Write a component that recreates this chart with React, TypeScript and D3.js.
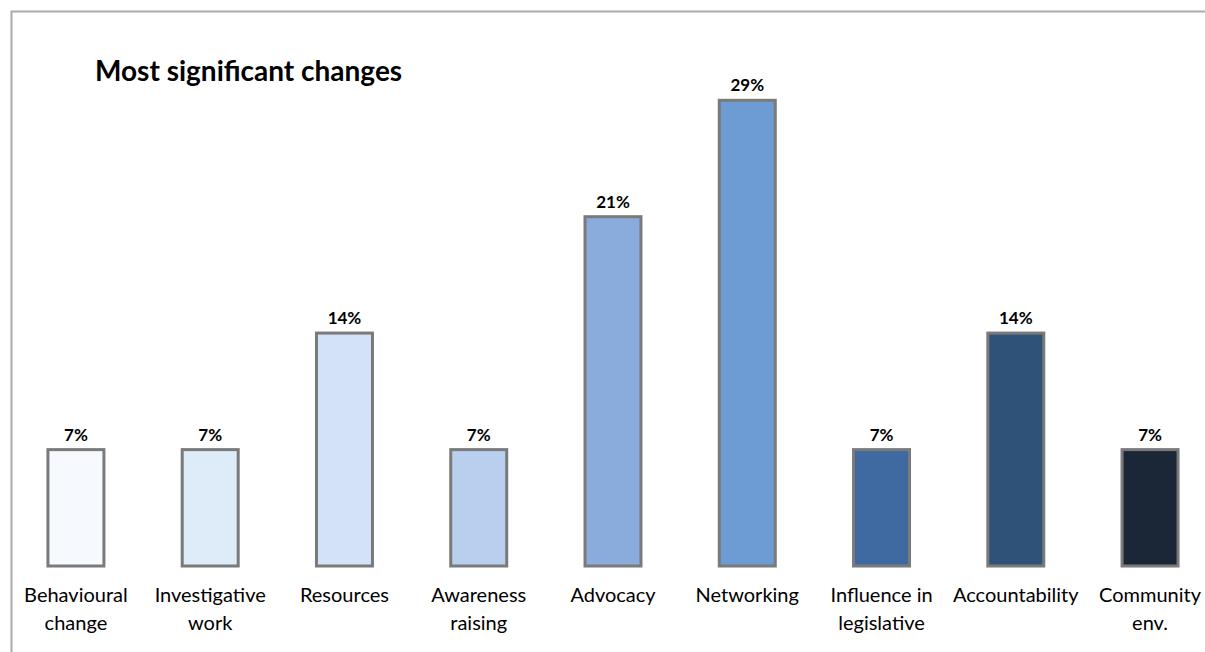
import { useEffect, useRef } from "react"
import * as d3 from "d3"

const categories = [
  ["Behavioural", "change"],
  ["Investigative", "work"],
  ["Resources"],
  ["Awareness", "raising"],
  ["Advocacy"],
  ["Networking"],
  ["Influence in", "legislative"],
  ["Accountability"],
  ["Community", "env."],
]
const values = [7.14, 7.14, 14.29, 7.14, 21.43, 28.57, 7.14, 14.29, 7.14]
const valueLabels = ["7%", "7%", "14%", "7%", "21%", "29%", "7%", "14%", "7%"]
const barColors = [
  "#f6fafe", "#deebf9", "#d3e2f7", "#b8cfee", "#89acdc",
  "#6d9bd4", "#3e6aa1", "#2f5279", "#1b2637",
]

const W = 1205
const H = 652
const FONT = "Lato, 'Open Sans', sans-serif"

export default function App() {
  const ref = useRef<SVGSVGElement>(null)

  useEffect(() => {
    const svg = d3.select(ref.current)
    svg.selectAll("*").remove()

    // Chart frame (top + left edges only visible)
    svg.append("path")
      .attr("d", `M11.5,${H} V11.5 H${W}`)
      .attr("fill", "none")
      .attr("stroke", "#aaaaaa")
      .attr("stroke-width", 2)

    svg.append("text")
      .attr("x", 95)
      .attr("y", 81)
      .attr("font-family", FONT)
      .attr("font-weight", "bold")
      .attr("font-size", 28)
      .attr("fill", "#000")
      .text("Most significant changes")

    const x = d3.scaleBand<number>()
      .domain(d3.range(values.length))
      .range([9, 1217])
      .paddingInner(0.583)
      .paddingOuter(0.29)

    const y = d3.scaleLinear()
      .domain([0, 30])
      .range([566, 77])

    const g = svg.append("g")

    g.selectAll("rect.bar")
      .data(values)
      .join("rect")
      .attr("class", "bar")
      .attr("x", (_, i) => x(i)!)
      .attr("y", d => y(d))
      .attr("width", x.bandwidth())
      .attr("height", d => y(0) - y(d))
      .attr("fill", (_, i) => barColors[i])
      .attr("stroke", "#7a7a7a")
      .attr("stroke-width", 3)

    g.selectAll("text.val")
      .data(values)
      .join("text")
      .attr("class", "val")
      .attr("x", (_, i) => x(i)! + x.bandwidth() / 2)
      .attr("y", d => y(d) - 9)
      .attr("text-anchor", "middle")
      .attr("font-family", FONT)
      .attr("font-weight", "bold")
      .attr("font-size", 17)
      .attr("fill", "#000")
      .text((_, i) => valueLabels[i])

    categories.forEach((lines, i) => {
      const t = g.append("text")
        .attr("x", x(i)! + x.bandwidth() / 2)
        .attr("y", 602)
        .attr("text-anchor", "middle")
        .attr("font-family", FONT)
        .attr("font-size", 20)
        .attr("fill", "#000")
      lines.forEach((line, j) => {
        t.append("tspan")
          .attr("x", x(i)! + x.bandwidth() / 2)
          .attr("dy", j === 0 ? 0 : 28)
          .text(line)
      })
    })
  }, [])

  return (
    <svg
      ref={ref}
      width={W}
      height={H}
      style={{ position: "absolute", left: 0, top: 0, background: "#fff" }}
    />
  )
}
